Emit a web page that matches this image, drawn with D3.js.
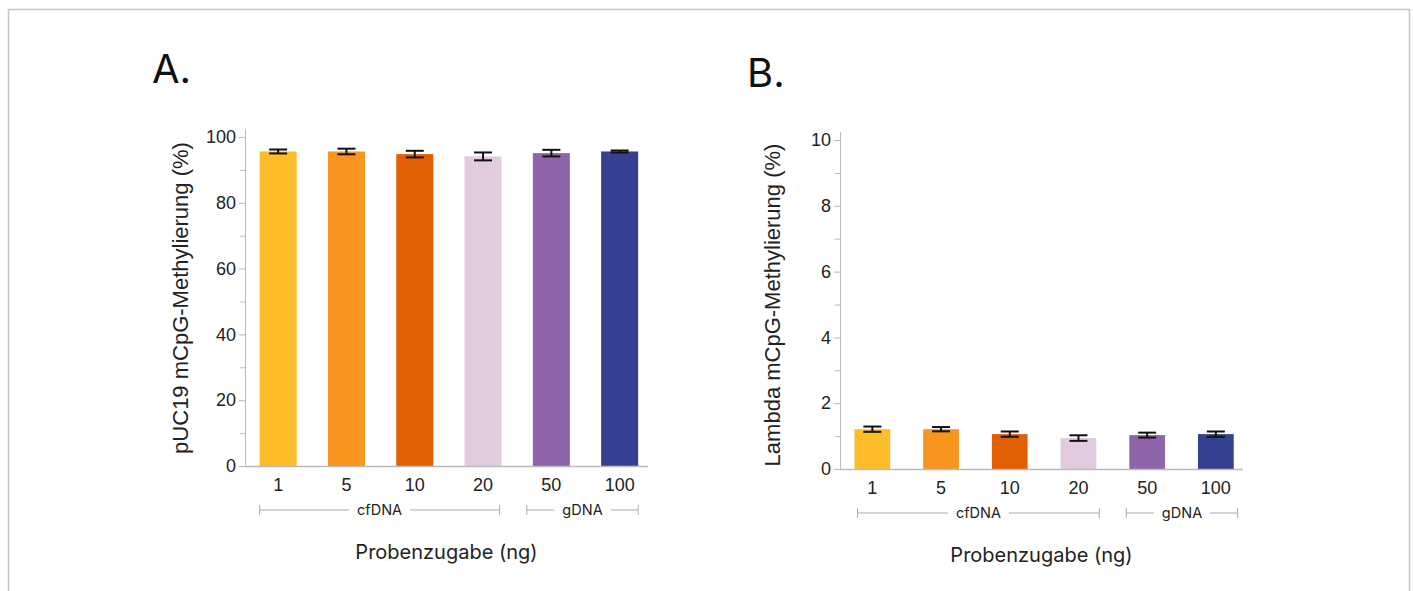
<!DOCTYPE html>
<html>
<head>
<meta charset="utf-8">
<script src="https://cdn.jsdelivr.net/npm/d3@7"></script>
<style>
  body { margin: 0; background: #fff; }
  svg { display: block; }
</style>
</head>
<body>
<div id="chart-area"></div>
<script>
// Data
var categories = ["1", "5", "10", "20", "50", "100"];
var colors = ["#FDBC2A", "#F7951F", "#E35F03", "#E0CBE1", "#8F65A9", "#334190"];
var pucValues = [95.6, 95.6, 94.8, 94.1, 95.1, 95.6];
var pucErrors = [0.6, 0.85, 1.0, 1.2, 1.0, 0.3];
var lambdaValues = [1.21, 1.21, 1.06, 0.94, 1.03, 1.06];
var lambdaErrors = [0.08, 0.065, 0.08, 0.085, 0.075, 0.08];
var groups = [
    {label: "cfDNA", from: "1", to: "20"},
    {label: "gDNA", from: "50", to: "100"}
];

var W = 1413, H = 591;
var svg = d3.select("#chart-area").append("svg")
    .attr("width", W)
    .attr("height", H);

// outer frame (no bottom edge)
svg.append("path")
    .attr("d", "M8.5," + H + "V9.5H1409.5V" + H)
    .attr("fill", "none")
    .attr("stroke", "#c4c4c4")
    .attr("stroke-width", 1.5);

function drawPanel(opts) {
    var width = 403, height = 329;
    var g = svg.append("g")
        .attr("transform", "translate(" + opts.left + "," + opts.top + ")");

    // panel letter
    svg.append("text")
        .attr("x", opts.letterX)
        .attr("y", opts.letterY)
        .attr("font-family", "Inter, 'Noto Sans', sans-serif")
        .attr("font-size", 40)
        .attr("fill", "#111")
        .text(opts.letter);

    var x = d3.scaleBand().domain(categories)
        .range([opts.xOff, opts.xOff + 6 * opts.step])
        .paddingInner(opts.pad).paddingOuter(opts.pad / 2);
    var y = d3.scaleLinear().domain([0, opts.max]).range([height, 0]);

    // minor ticks
    g.selectAll(".minor").data(opts.minor).enter().append("line")
        .attr("x1", -5).attr("x2", 0)
        .attr("y1", (d) => y(d) + 0.5).attr("y2", (d) => y(d) + 0.5)
        .attr("stroke", "#bbb");

    var yAxis = g.append("g")
        .call(d3.axisLeft(y).tickValues(opts.ticks).tickSize(6).tickPadding(3));
    yAxis.select(".domain").attr("stroke", "#bbb").attr("d", "M0.5," + height + "V-8");
    yAxis.selectAll(".tick line").attr("stroke", "#bbb");
    yAxis.selectAll(".tick text")
        .attr("font-family", "Arial, 'Liberation Sans', sans-serif")
        .attr("font-size", 18)
        .attr("fill", "#222");

    // bars
    g.selectAll(".bar").data(opts.values).enter().append("rect")
        .attr("x", (d, i) => x(categories[i]))
        .attr("width", x.bandwidth())
        .attr("y", (d) => y(d))
        .attr("height", (d) => height - y(d))
        .attr("fill", (d, i) => colors[i]);

    // error bars
    var err = g.selectAll(".err").data(opts.values).enter().append("g")
        .attr("stroke", "#111").attr("stroke-width", 2);
    err.append("line")
        .attr("x1", (d, i) => x(categories[i]) + x.bandwidth() / 2)
        .attr("x2", (d, i) => x(categories[i]) + x.bandwidth() / 2)
        .attr("y1", (d, i) => y(d + opts.errors[i]))
        .attr("y2", (d, i) => y(d - opts.errors[i]));
    [1, -1].forEach((s) => {
        err.append("line")
            .attr("x1", (d, i) => x(categories[i]) + x.bandwidth() / 2 - 9)
            .attr("x2", (d, i) => x(categories[i]) + x.bandwidth() / 2 + 9)
            .attr("y1", (d, i) => y(d + s * opts.errors[i]))
            .attr("y2", (d, i) => y(d + s * opts.errors[i]));
    });

    // x axis
    var xAxis = g.append("g")
        .attr("transform", "translate(0," + height + ")")
        .call(d3.axisBottom(x).tickSize(0).tickPadding(opts.xPad));
    xAxis.select(".domain").attr("stroke", "#bbb").attr("stroke-width", 1.5)
        .attr("d", "M0," + 0.5 + "H" + width);
    xAxis.selectAll(".tick text")
        .attr("font-family", "Arial, 'Liberation Sans', sans-serif")
        .attr("font-size", 18)
        .attr("fill", "#222");

    // group brackets
    var by = height + opts.bracketY;
    groups.forEach((grp, gi) => {
        var adj = opts.bracketAdj[gi];
        var x0 = x(grp.from) + adj[0];
        var x1 = x(grp.to) + x.bandwidth() + adj[1];
        var cx = (x0 + x1) / 2;
        var txt = g.append("text")
            .attr("x", cx).attr("y", by + 5)
            .attr("text-anchor", "middle")
            .attr("font-family", "Inter, 'Noto Sans', sans-serif")
            .attr("font-size", 14.5)
            .attr("fill", "#222")
            .text(grp.label);
        var tw = txt.node().getComputedTextLength() / 2 + 8;
        var b = g.append("g").attr("stroke", "#aaa").attr("fill", "none");
        b.append("path").attr("d", "M" + x0 + "," + (by - 5) + "V" + (by + 5));
        b.append("path").attr("d", "M" + x1 + "," + (by - 5) + "V" + (by + 5));
        b.append("path").attr("d", "M" + x0 + "," + by + "H" + (cx - tw));
        b.append("path").attr("d", "M" + (cx + tw) + "," + by + "H" + x1);
    });

    // x title
    g.append("text")
        .attr("x", width / 2)
        .attr("y", opts.xTitleY)
        .attr("text-anchor", "middle")
        .attr("font-family", "Inter, 'Noto Sans', sans-serif")
        .attr("font-size", 20)
        .attr("fill", "#222")
        .text("Probenzugabe (ng)");

    // y title
    g.append("text")
        .attr("transform", "rotate(-90)")
        .attr("x", -opts.yTitleMid)
        .attr("y", opts.yTitleX)
        .attr("text-anchor", "middle")
        .attr("font-family", "Arial, 'Liberation Sans', sans-serif")
        .attr("font-size", 22)
        .attr("fill", "#222")
        .text(opts.yTitle);
}

drawPanel({
    left: 245, top: 137, max: 100,
    ticks: [0, 20, 40, 60, 80, 100], minor: [10, 30, 50, 70, 90],
    xOff: -1, step: 68.3, pad: 0.458,
    values: pucValues, errors: pucErrors,
    bracketAdj: [[0, -2], [-6, 0]],
    letter: "A.", letterX: 152, letterY: 83,
    xPad: 12, bracketY: 44, xTitleY: 422,
    yTitle: "pUC19 mCpG-Methylierung (%)", yTitleMid: 161, yTitleX: -57
});

drawPanel({
    left: 840, top: 140, max: 10,
    ticks: [0, 2, 4, 6, 8, 10], minor: [1, 3, 5, 7, 9],
    xOff: -2, step: 68.7, pad: 0.48,
    values: lambdaValues, errors: lambdaErrors,
    bracketAdj: [[3, 3], [-3, 4]],
    letter: "B.", letterX: 747, letterY: 87,
    xPad: 12, bracketY: 44, xTitleY: 422,
    yTitle: "Lambda mCpG-Methylierung (%)", yTitleMid: 165, yTitleX: -60
});
</script>
</body>
</html>
